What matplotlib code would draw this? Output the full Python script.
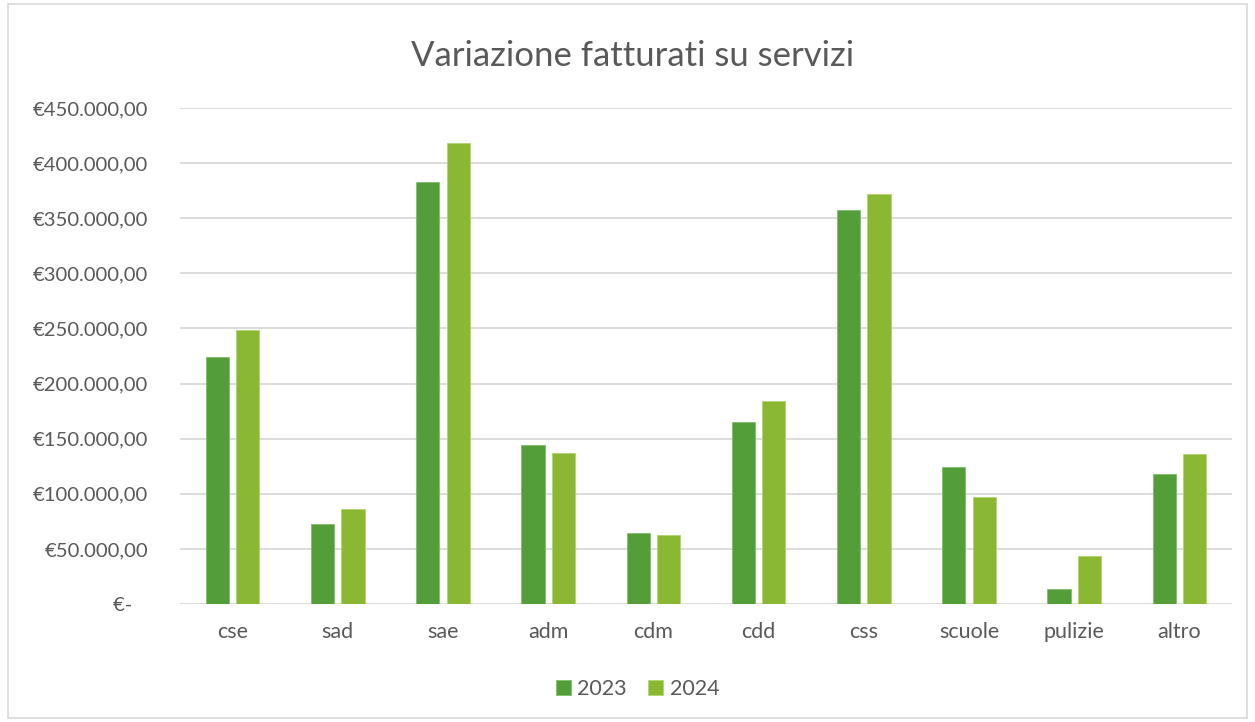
import matplotlib.pyplot as plt
import matplotlib.patches as mpatches
import numpy as np

categorie = ['cse', 'sad', 'sae', 'adm', 'cdm', 'cdd', 'css', 'scuole', 'pulizie', 'altro']
valori_2023 = [224000, 72600, 383000, 144300, 64100, 165200, 357500, 124600, 13300, 118200]
valori_2024 = [248600, 86200, 418000, 136700, 62600, 184200, 372300, 97100, 43800, 135800]
tick_valori = [0, 50000, 100000, 150000, 200000, 250000, 300000, 350000, 400000, 450000]
tick_etichette = ['€-   ', '€50.000,00', '€100.000,00', '€150.000,00', '€200.000,00',
                  '€250.000,00', '€300.000,00', '€350.000,00', '€400.000,00', '€450.000,00']

testo = '#595959'
plt.rcParams['font.family'] = ['Lato', 'DejaVu Sans']

fig = plt.figure(figsize=(12.55, 7.22), dpi=100)
ax = fig.add_axes([0.1434, 0.1634, 0.8383, 0.687])

# bordo del grafico
fig.patches.append(mpatches.Rectangle((0.006, 0.006), 0.988, 0.988, transform=fig.transFigure,
                                      fill=False, edgecolor='#d9d9d9', lw=1.2))

x = np.arange(len(categorie))
w = 0.22
ax.bar(x - 0.145, valori_2023, w, color='#549E39', edgecolor='#7fbf6a', lw=0.6, label='2023', zorder=3)
ax.bar(x + 0.145, valori_2024, w, color='#8AB833', edgecolor='#b0d470', lw=0.6, label='2024', zorder=3)

ax.set_xlim(-0.5, len(categorie) - 0.5)
ax.set_ylim(0, 450000)
ax.set_yticks(tick_valori)
ax.set_yticklabels(tick_etichette)
ax.set_xticks(x)
ax.set_xticklabels(categorie)
ax.tick_params(axis='both', length=0, colors=testo)
ax.tick_params(axis='y', pad=23, labelsize=14.6)
ax.tick_params(axis='x', pad=13, labelsize=15.5)
ax.grid(axis='y', color='#d9d9d9', lw=1.3, zorder=0)
for s in ax.spines.values():
    s.set_visible(False)

fig.text(0.504, 0.922, 'Variazione fatturati su servizi', ha='center', va='center',
         fontsize=25, color=testo)

fig.legend(*ax.get_legend_handles_labels(), loc='center', bbox_to_anchor=(0.508, 0.046),
           ncol=2, frameon=False, fontsize=15.5, labelcolor=testo, handlelength=0.7,
           handleheight=0.7, handletextpad=0.3, columnspacing=1.0)

plt.savefig('out.png', dpi=100)
